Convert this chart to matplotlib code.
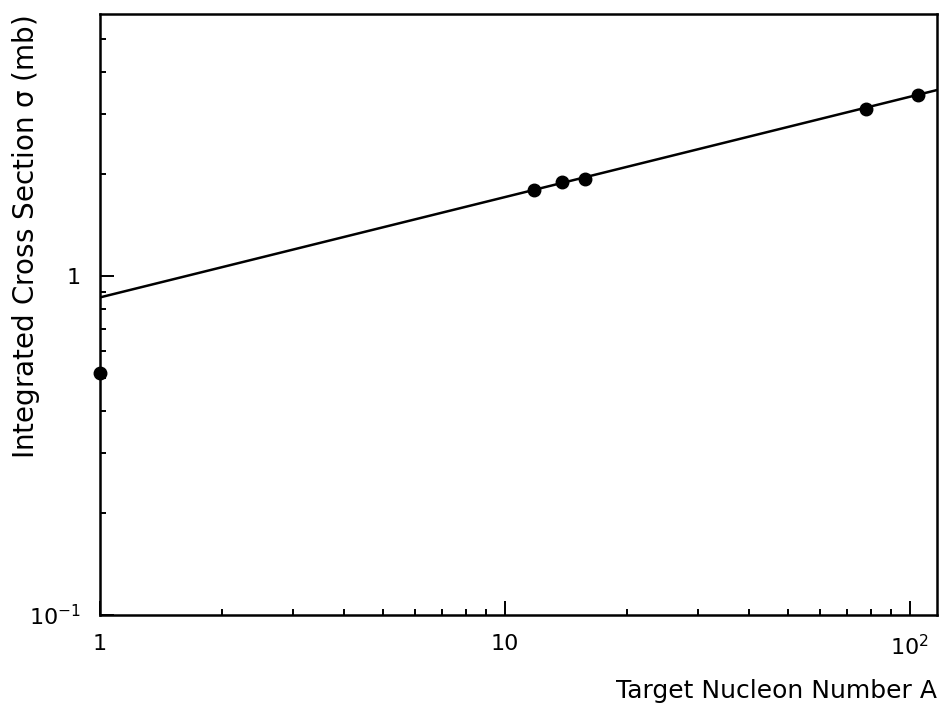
import numpy as np
import matplotlib
matplotlib.use("Agg")
import matplotlib.pyplot as plt
from matplotlib.ticker import FixedLocator, FixedFormatter, LogLocator, NullFormatter

# measured points (target nucleon number, cross section in mb)
A_data = [1.0, 11.8, 13.8, 15.8, 77.9, 104.8]
sigma_data = [0.518, 1.80, 1.89, 1.93, 3.12, 3.42]

# power law fit sigma = s0 * A**alpha
s0 = 0.865
alpha = 0.296

x_ticks = [1, 10, 100]
x_tick_labels = ["1", "10", r"$10^{2}$"]
y_ticks = [0.1, 1]
y_tick_labels = [r"$10^{-1}$", "1"]

plt.rcParams['font.family'] = ['DejaVu Sans']
plt.rcParams['mathtext.default'] = 'regular'

fig = plt.figure(figsize=(9.45, 7.03), dpi=100)
ax = fig.add_axes([0.1058, 0.1252, 0.8854, 0.8548])

A_fit = np.logspace(0, np.log10(116.5), 200)
ax.plot(A_fit, s0 * A_fit ** alpha, color='black', lw=1.8)
ax.plot(A_data, sigma_data, 'o', color='black', ms=9, clip_on=False, zorder=3)

ax.set_xscale('log')
ax.set_yscale('log')
ax.set_xlim(1, 116.5)
ax.set_ylim(0.1, 5.93)

ax.xaxis.set_major_locator(FixedLocator(x_ticks))
ax.xaxis.set_major_formatter(FixedFormatter(x_tick_labels))
ax.yaxis.set_major_locator(FixedLocator(y_ticks))
ax.yaxis.set_major_formatter(FixedFormatter(y_tick_labels))
ax.xaxis.set_minor_locator(LogLocator(base=10, subs=np.arange(2, 10)))
ax.yaxis.set_minor_locator(LogLocator(base=10, subs=np.arange(2, 10)))
ax.xaxis.set_minor_formatter(NullFormatter())
ax.yaxis.set_minor_formatter(NullFormatter())

ax.tick_params(which='both', direction='in', top=False, right=False,
               labelsize=16, width=1.4)
ax.tick_params(which='major', length=10, pad=14)
ax.tick_params(which='minor', length=4.5)
for s in ax.spines.values():
    s.set_linewidth(1.8)

fig.text(0.0275, 0.9787, r"Integrated Cross Section $\sigma$ (mb)", fontsize=20,
         rotation=90, ha='center', va='top')
fig.text(0.9912, 0.0071, "Target Nucleon Number A", fontsize=18, ha='right', va='baseline')

fig.savefig("out.png", dpi=100)
